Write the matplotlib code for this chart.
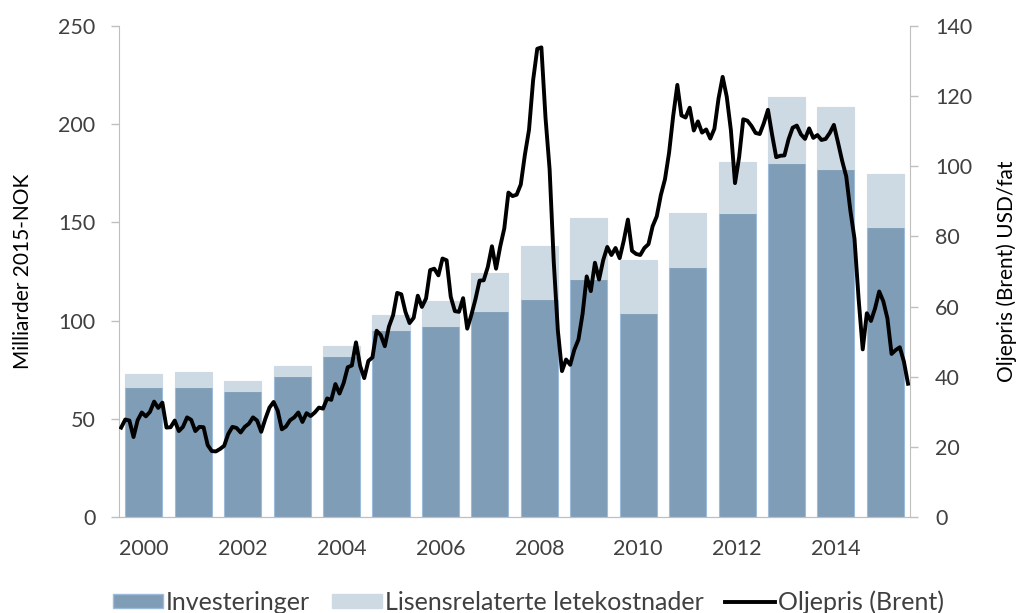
import matplotlib
matplotlib.use("Agg")
import matplotlib.pyplot as plt
import numpy as np
from matplotlib.patches import Patch
from matplotlib.lines import Line2D

years = list(range(2000, 2016))
investeringer = [66, 66, 64, 72, 82, 95, 97, 105, 111, 121, 104, 127.5, 155, 180, 177, 147.5]
totalt = [73, 74, 69, 77, 87, 103, 110, 124, 138, 152, 131, 155, 181, 214, 209, 174.5]
letekostnader = [t - i for t, i in zip(totalt, investeringer)]

brent = [
    25.5, 27.8, 27.5, 22.8, 27.6, 29.8, 28.7, 30.0, 32.9, 31.1, 32.6, 25.5,
    25.6, 27.5, 24.5, 25.7, 28.4, 27.7, 24.5, 25.7, 25.6, 20.5, 18.8, 18.7,
    19.4, 20.3, 23.7, 25.7, 25.4, 24.1, 25.7, 26.6, 28.4, 27.5, 24.3, 28.0,
    31.2, 32.8, 30.3, 25.0, 25.8, 27.6, 28.4, 29.8, 27.1, 29.6, 28.8, 29.8,
    31.2, 30.9, 33.8, 33.4, 37.9, 35.2, 38.2, 42.7, 43.2, 49.8, 43.1, 39.6,
    44.5, 45.5, 53.1, 51.9, 48.7, 54.3, 57.5, 63.9, 63.5, 58.5, 55.3, 56.8,
    63.1, 59.9, 62.3, 70.4, 70.8, 68.9, 73.7, 73.2, 62.8, 58.7, 58.5, 62.4,
    53.7, 57.6, 62.1, 67.4, 67.5, 71.3, 77.2, 70.8, 77.1, 82.3, 92.5, 91.5,
    91.9, 94.8, 103.3, 110.4, 124.6, 133.5, 133.9, 113.9, 99.1, 72.8, 53.2, 41.6,
    44.9, 43.4, 47.7, 50.6, 57.9, 68.6, 64.4, 72.5, 67.7, 73.2, 77.0, 74.7,
    76.7, 73.8, 78.8, 84.8, 75.9, 75.0, 74.7, 76.7, 77.8, 82.9, 85.7, 91.8,
    96.3, 103.9, 114.4, 123.2, 114.5, 113.9, 116.7, 110.2, 112.8, 109.6, 110.5, 107.9,
    110.7, 119.3, 125.5, 119.8, 110.3, 95.2, 102.6, 113.4, 113.0, 111.5, 109.5, 109.2,
    112.3, 116.1, 109.0, 102.6, 103.0, 103.1, 107.7, 111.0, 111.6, 109.1, 107.8, 110.8,
    108.1, 108.9, 107.5, 107.8, 109.5, 111.8, 106.8, 101.6, 97.1, 87.4, 79.4, 62.3,
    47.8, 58.1, 55.9, 59.5, 64.3, 61.5, 56.6, 46.5, 47.6, 48.4, 44.3, 38.0,
]
months = [2000 + (k + 0.5) / 12 for k in range(len(brent))]

xtick_labels = ["2000", "2002", "2004", "2006", "2008", "2010", "2012", "2014"]

plt.rcParams['font.family'] = ['Lato', 'DejaVu Sans']
text_color = "#404040"
spine_color = "#BFBFBF"
dark = "#7F9DB7"
light = "#CDD9E3"

fig = plt.figure(figsize=(10.18, 6.13), dpi=100)
ax = fig.add_axes([0.117, 0.1566, 0.777, 0.801])
ax2 = ax.twinx()

xc = [y + 0.5 for y in years]
ax.bar(xc, investeringer, width=0.75, color=dark, edgecolor="#9DBBDA", linewidth=0.8, zorder=2)
ax.bar(xc, letekostnader, bottom=investeringer, width=0.75, color=light, edgecolor=light, linewidth=0.8, zorder=2)

ax2.plot(months, brent, color="black", linewidth=2.8, zorder=3, solid_joinstyle="round")

ax.set_xlim(2000, 2016)
ax.set_ylim(0, 250)
ax2.set_ylim(0, 140)
ax.set_yticks([0, 50, 100, 150, 200, 250])
ax2.set_yticks([0, 20, 40, 60, 80, 100, 120, 140])
ax.set_xticks([int(l) + 0.5 for l in xtick_labels])
ax.set_xticklabels(xtick_labels)

for a in (ax, ax2):
    a.spines["top"].set_visible(False)
    a.spines["left"].set_color(spine_color)
    a.spines["right"].set_color(spine_color)
    a.spines["bottom"].set_color(spine_color)
    a.tick_params(colors=text_color, labelsize=15.5)
ax.spines["right"].set_visible(False)
ax2.spines["left"].set_visible(False)
ax.tick_params(axis="y", color=spine_color, length=6, width=1, pad=11, labelcolor=text_color)
ax2.tick_params(axis="y", color=spine_color, length=6, width=1, pad=12, labelcolor=text_color)
ax.tick_params(axis="x", length=0, pad=16, labelcolor=text_color)
ax.set_zorder(ax2.get_zorder() - 1)
ax2.patch.set_visible(False)

ax.set_ylabel("Milliarder 2015-NOK", fontsize=15, color="black", labelpad=18)
ax2.set_ylabel("Oljepris (Brent) USD/fat", fontsize=15, color="black", labelpad=17)

handles = [
    Patch(facecolor=dark, edgecolor="#9DBBDA"),
    Patch(facecolor=light, edgecolor=light),
    Line2D([0], [0], color="black", linewidth=2.8),
]
labels = ["Investeringer", "Lisensrelaterte letekostnader", "Oljepris (Brent)"]
fig.legend(handles, labels, loc="center", bbox_to_anchor=(0.519, 0.018), ncol=3, frameon=False,
           fontsize=18, handlelength=2.0, handleheight=0.52, handletextpad=0.12, columnspacing=0.85,
           labelcolor=text_color, borderpad=0.2)

fig.savefig("out.png", dpi=100)
